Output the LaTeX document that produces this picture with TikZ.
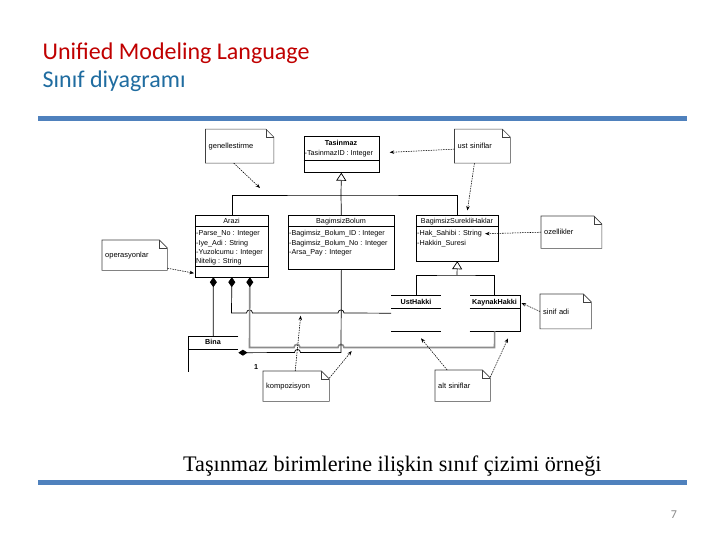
\documentclass[tikz,border=0pt]{standalone}
\usepackage{fontspec}
\setmainfont{Liberation Sans}
\newfontfamily\calibri{Carlito}
\newfontfamily\timesf{Liberation Serif}
\usetikzlibrary{arrows.meta}
\definecolor{titlered}{RGB}{192,0,0}
\definecolor{titleblue}{RGB}{31,108,160}
\definecolor{rulebl}{RGB}{79,129,189}
\definecolor{numgray}{RGB}{137,137,137}
\newcommand\foldnote[1]{%
  \draw[noteline] (#1.north west) -- ([xshift=-8pt]#1.north east) -- ([yshift=-8pt]#1.north east) -- (#1.south east) -- (#1.south west) -- cycle;
  \draw[noteline] ([xshift=-8pt]#1.north east) -- ([xshift=-8pt,yshift=-8pt]#1.north east) -- ([yshift=-8pt]#1.north east);
}
\tikzset{
  cls/.style={draw, line width=0.7pt, anchor=north west, inner sep=0pt},
  hdr/.style={inner sep=0pt, anchor=base, font=\fontsize{7.2}{8}\selectfont},
  hdrb/.style={inner sep=0pt, anchor=base, font=\bfseries\fontsize{7.2}{8}\selectfont},
  attr/.style={inner sep=0pt, anchor=base west, font=\fontsize{7.2}{8}\selectfont},
  sep/.style={line width=0.7pt},
  notebox/.style={anchor=north west, inner xsep=3pt, inner ysep=0pt, align=left, font=\fontsize{7.5}{8}\selectfont},
  noteline/.style={draw=black!75, line width=0.6pt},
  notearrow/.style={line width=0.55pt, dash pattern=on 1.5pt off 1pt, -{Stealth[length=4.5pt,width=3.5pt]}},
  gentip/.style={line width=0.7pt, -{Triangle[open,length=8pt,width=10pt,fill=white]}},
  plain/.style={line width=0.7pt},
  comp/.style={line width=0.7pt, {Diamond[length=10pt,width=7pt]}-},
  compgray/.style={line width=1.6pt, draw=black!45, {Diamond[length=10pt,width=7pt,color=black]}-},
  rulebar/.style={draw=rulebl, line width=4.5pt},
}
\begin{document}
\begin{tikzpicture}[x=1pt,y=-1pt]
\useasboundingbox (0,0) rectangle (720,540);
\fill[white] (0,0) rectangle (720,540);

% slide title
\node[anchor=base west, inner sep=0pt, font=\calibri\fontsize{24}{28}\selectfont, text=titlered] (title) at (42.5,60) {Unified Modeling Language};
\node[anchor=base west, inner sep=0pt, font=\calibri\fontsize{24}{28}\selectfont, text=titleblue] (subtitle) at (42.5,87.5) {Sınıf diyagramı};
\draw[rulebar] (38,118.3) -- (687,118.3);
\draw[rulebar] (38,482.5) -- (687,482.5);
\node[anchor=base west, inner sep=0pt, font=\timesf\fontsize{22.2}{24}\selectfont] (caption) at (183,471.7) {Taşınmaz birimlerine ilişkin sınıf çizimi örneği};
\node[anchor=base, inner sep=0pt, font=\calibri\fontsize{12}{14}\selectfont, text=numgray] (pnum) at (674,518.3) {7};

% classes
\node[cls, minimum width=75pt, minimum height=36pt] (Tasinmaz) at (303.5,136) {};
\node[hdrb] (TasinmazT) at (341,145.3) {Tasinmaz};
\node[attr] (TasinmazA) at (304.5,155.6) {-TasinmazID : Integer};
\draw[sep] (303.5,160) -- (378.5,160);

\node[cls, minimum width=73pt, minimum height=61pt] (Arazi) at (195,215.5) {};
\node[hdr] (AraziT) at (231.5,223.6) {Arazi};
\draw[sep] (195,226.7) -- (268,226.7);
\node[attr] (AraziA1) at (196,235.6) {-Parse\_No : Integer};
\node[attr] (AraziA2) at (196,245) {-Iye\_Adi : String};
\node[attr] (AraziA3) at (196,254.3) {-Yuzolcumu : Integer};
\node[attr] (AraziA4) at (196,263.5) {Nitelig : String};
\draw[sep] (195,266.7) -- (268,266.7);

\node[cls, minimum width=106pt, minimum height=53.5pt] (Bolum) at (288,215.5) {};
\node[hdr] (BolumT) at (341,223.6) {BagimsizBolum};
\draw[sep] (288,226.5) -- (394,226.5);
\node[attr] (BolumA1) at (289,235.6) {-Bagimsiz\_Bolum\_ID : Integer};
\node[attr] (BolumA2) at (289,245) {-Bagimsiz\_Bolum\_No : Integer};
\node[attr] (BolumA3) at (289,254.3) {-Arsa\_Pay : Integer};

\node[cls, minimum width=82pt, minimum height=45pt] (Haklar) at (416,215.5) {};
\node[hdr] (HaklarT) at (457,223.6) {BagimsizSurekliHaklar};
\draw[sep] (416,226.5) -- (498,226.5);
\node[attr] (HaklarA1) at (417,235.6) {-Hak\_Sahibi : String};
\node[attr] (HaklarA2) at (417,245) {-Hakkin\_Suresi};

\node[anchor=north west, inner sep=0pt, minimum width=50pt, minimum height=36pt] (UstHakki) at (391,295) {};
\node[hdrb] (UstHakkiT) at (416,304.3) {UstHakki};
\draw[sep] (UstHakki.north west) -- (UstHakki.north east);
\draw[sep] (391,308.3) -- (441,308.3);
\draw[sep] (UstHakki.south west) -- (UstHakki.south east);

\node[anchor=north west, inner sep=0pt, minimum width=50pt, minimum height=36pt] (KaynakHakki) at (469.5,295) {};
\node[hdrb] (KaynakHakkiT) at (494.5,304.3) {KaynakHakki};
\draw[sep] (KaynakHakki.south west) -- (KaynakHakki.south east) -- (KaynakHakki.north east) -- (KaynakHakki.north west);
\draw[sep] (469.5,308.3) -- (519.5,308.3);

\node[anchor=north west, inner sep=0pt, minimum width=50pt, minimum height=36pt] (Bina) at (188,336) {};
\node[hdrb] (BinaT) at (213,344.6) {Bina};
\draw[sep] (Bina.north east) -- (Bina.north west) -- (Bina.south west);
\draw[sep] (188,349) -- (238,349);

% generalizations
\coordinate (b1) at (341,195);
\draw[gentip] (b1) -- (Tasinmaz.south);
\draw[plain] (Arazi.north) |- (b1) -| (Haklar.north);
\draw[plain] (Bolum.north) -- (b1);
\coordinate (b2) at (457,275);
\draw[gentip] (b2) -- (Haklar.south);
\draw[plain] (UstHakki.north) |- (b2) -| (KaynakHakki.north);

% compositions
\draw[comp] ([xshift=-18.5pt]Arazi.south) -- (Bina.north);
\draw[comp] (Arazi.south) -- (231.5,313) -- (246.5,313) .. controls (246.5,309) and (252.5,309) .. (252.5,313) -- (338,313) .. controls (338,309) and (344,309) .. (344,313) -- (UstHakki.west);
\draw[compgray] ([xshift=18pt]Arazi.south) -- (249.5,347.5) -- (294,347.5) .. controls (294,343.5) and (300,343.5) .. (300,347.5) -- (338,347.5) .. controls (338,343.5) and (344,343.5) .. (344,347.5) -- (494.5,347.5) -- (KaynakHakki.south);
\draw[line width=0.7pt, {Diamond[length=9pt,width=6pt]}-] ([yshift=1.5pt]Bina.east) -- (294.5,352.5) .. controls (294.5,348.5) and (300.5,348.5) .. (300.5,352.5) -- (341,352.5) -- (Bolum.south);
\node[inner sep=0pt, anchor=base, font=\bfseries\fontsize{7.2}{8}\selectfont] (one) at (256,369.5) {1};

% notes
\node[notebox, text width=62pt, minimum height=33.5pt] (gen) at (205.5,129.2) {genellestirme};
\foldnote{gen}
\node[notebox, text width=49.5pt, minimum height=33.5pt] (ust) at (454.5,129.2) {ust siniflar};
\foldnote{ust}
\node[notebox, text width=59pt, minimum height=30pt] (ope) at (102,240) {operasyonlar};
\foldnote{ope}
\node[notebox, text width=54.5pt, minimum height=32pt] (ozl) at (541,216) {ozellikler};
\foldnote{ozl}
\node[notebox, text width=45pt, minimum height=34.5pt] (sin) at (540,294) {sinif adi};
\foldnote{sin}
\node[notebox, text width=60pt, minimum height=30pt] (kom) at (263,371) {kompozisyon};
\foldnote{kom}
\node[notebox, text width=49pt, minimum height=31pt] (alt) at (435,370) {alt siniflar};
\foldnote{alt}

% note arrows
\coordinate (g1) at (260,188);
\draw[notearrow] ([xshift=-6pt]gen.south) -- (g1);
\draw[notearrow] ([yshift=-3pt]ust.west) -- ([xshift=10.5pt,yshift=2pt]Tasinmaz.east);
\draw[notearrow] ([xshift=-8pt]ust.south) -- ([xshift=10pt,yshift=5pt]Haklar.north);
\draw[notearrow] ([yshift=-13pt]ope.east) -- ([xshift=-1pt,yshift=4pt]Arazi.south west);
\draw[notearrow] (ozl.west) -- ([xshift=3pt]HaklarA1.east);
\draw[notearrow] (sin.west) -- ([xshift=1.5pt,yshift=-8pt]KaynakHakki.north east);
\coordinate (k1) at (300.7,315.7);
\coordinate (k2) at (351.7,351);
\draw[notearrow] ([xshift=-1pt]kom.north) -- (k1);
\draw[notearrow] ([yshift=-7pt]kom.north east) -- (k2);
\coordinate (a1) at (421,338.3);
\coordinate (a2) at (508,338.3);
\draw[notearrow] ([xshift=-15.5pt]alt.north) -- (a1);
\draw[notearrow] ([yshift=-7pt]alt.north east) -- (a2);
\end{tikzpicture}
\end{document}
